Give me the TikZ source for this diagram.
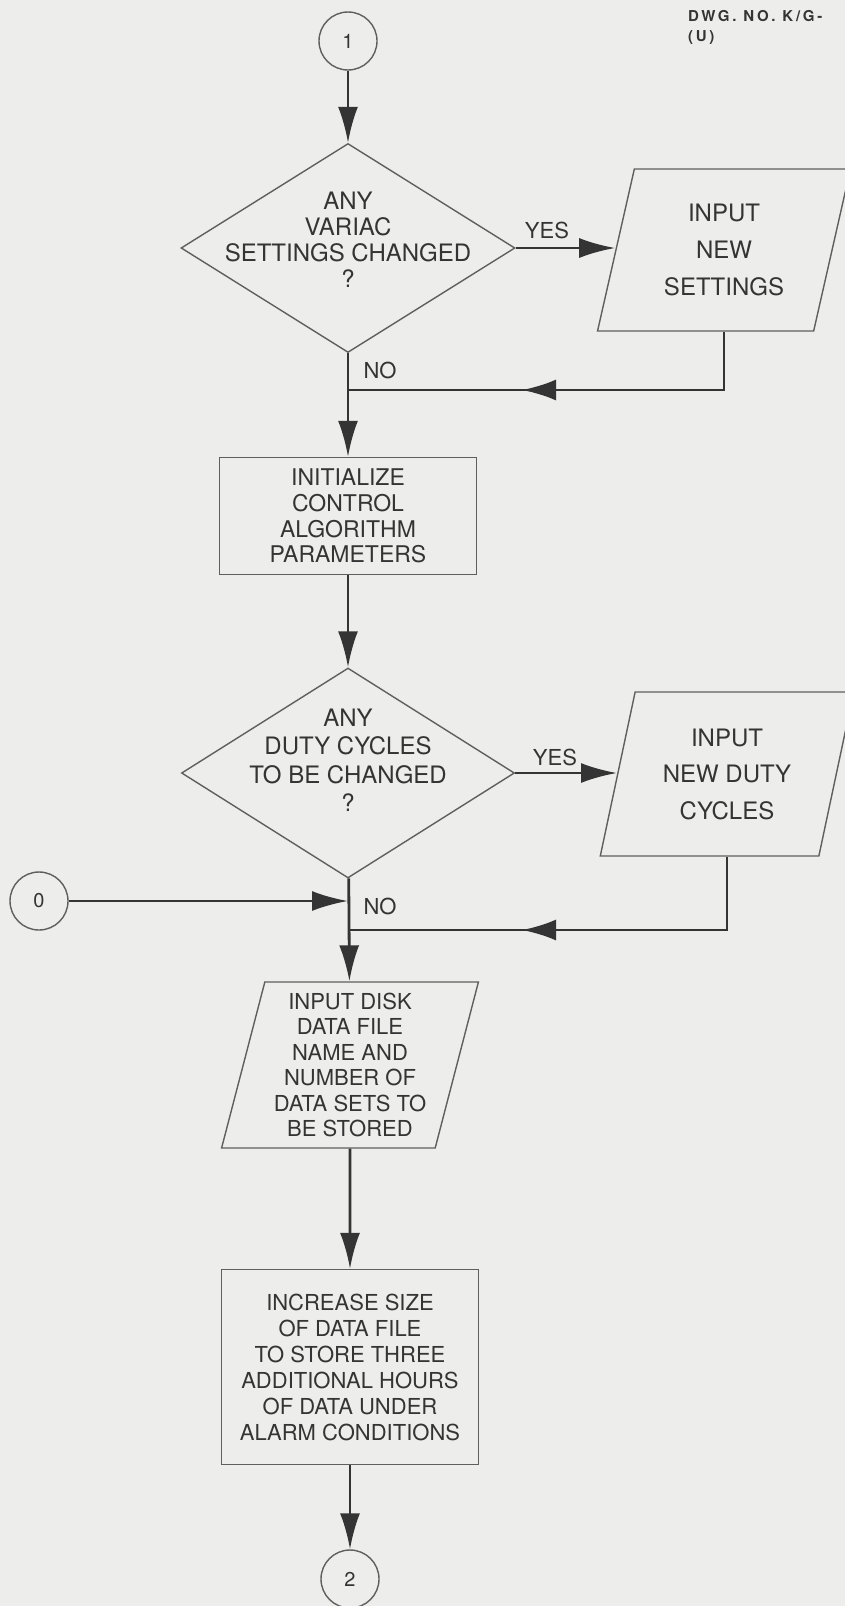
\documentclass[tikz,border=0pt]{standalone}
\usepackage{fontspec}
\setmainfont{TeX Gyre Heros}
\usetikzlibrary{shapes.geometric,arrows.meta,decorations.markings}
\definecolor{paper}{RGB}{237,237,235}
\definecolor{ink}{RGB}{52,52,52}
\definecolor{edge}{RGB}{95,95,95}
\tikzset{
  decision/.style={draw=edge,line width=1.4pt,diamond,inner sep=0pt},
  process/.style={draw=edge,line width=1.4pt,rectangle,inner sep=0pt,align=center,text=ink},
  io/.style={draw=edge,line width=1.4pt,trapezium,trapezium left angle=75,trapezium right angle=105,
    trapezium stretches=true,inner sep=0pt,align=center,text=ink},
  conn/.style={draw=edge,line width=1.4pt,circle,minimum size=58pt,inner sep=0pt,text=ink,
    font=\fontsize{20}{24}\selectfont},
  lbl/.style={text=ink,inner sep=0pt,font=\fontsize{22}{24}\selectfont},
  flow/.style={draw=ink,line width=2.8pt,-{Latex[length=36pt,width=20pt]}},
  back/.style={draw=ink,line width=2.8pt,postaction={decorate},
    decoration={markings,mark=at position -174pt with {\arrow{Latex[length=34pt,width=21pt]}}}},
}
\begin{document}
\begin{tikzpicture}[x=1pt,y=-1pt]
  \fill[paper] (0,0) rectangle (845,1606);
  \useasboundingbox (0,0) rectangle (845,1606);
  % drawing number
  \node[lbl,anchor=north west,align=left,font=\fontsize{15}{20}\selectfont\bfseries\addfontfeatures{LetterSpace=18}] (dwg) at (688,10) {DWG. NO. K/G-\\(U)};

  % variac settings
  \node[conn] (c1) at (348,41) {1};
  \node[decision,minimum width=334pt,minimum height=209pt] (d1) at (348,248) {};
  \node[lbl,align=center,font=\fontsize{24}{26}\selectfont] (d1t) at (348,240) {ANY\\VARIAC\\SETTINGS CHANGED\\?};
  \node[io,minimum width=253pt,minimum height=162pt,font=\fontsize{24}{37}\selectfont] (p1) at (724,250) {INPUT\\NEW\\SETTINGS};
  \node[lbl] (yes1) at (547,230) {YES};
  \node[lbl] (no1) at (380,370) {NO};
  \coordinate (j1) at (348,390);

  \draw[flow] (c1) -- (d1);
  \draw[flow] (d1) -- (d1 -| p1.west);
  \draw[back] (p1.center |- p1.south) |- (j1);

  % control parameters
  \node[process,minimum width=257pt,minimum height=117pt,font=\fontsize{23}{25.7}\selectfont] (init) at (348,516) {INITIALIZE\\CONTROL\\ALGORITHM\\PARAMETERS};
  \draw[flow] (d1) -- (init);

  % duty cycles
  \node[decision,minimum width=333pt,minimum height=210pt] (d2) at (348,773) {};
  \node[lbl,align=center,font=\fontsize{24}{28.5}\selectfont] (d2t) at (348,760) {ANY\\DUTY CYCLES\\TO BE CHANGED\\?};
  \node[io,minimum width=254pt,minimum height=164pt,font=\fontsize{24}{36.5}\selectfont] (p2) at (727,774) {INPUT\\NEW DUTY\\CYCLES};
  \node[lbl] (yes2) at (555,757) {YES};
  \node[lbl] (no2) at (380,906) {NO};
  \node[conn] (c0) at (39,901) {0};
  \coordinate (j2) at (348,901);
  \coordinate (j3) at (348,930);

  \draw[flow] (init) -- (d2);
  \draw[flow] (d2) -- (d2 -| p2.west);
  \draw[flow] (c0) -- (j2);
  \draw[back] (p2.center |- p2.south) |- (j3);

  % data file
  \node[io,minimum width=257pt,minimum height=166pt,font=\fontsize{22}{25.5}\selectfont] (p3) at (350,1065) {INPUT DISK\\DATA FILE\\NAME AND\\NUMBER OF\\DATA SETS TO\\BE STORED};
  \node[process,minimum width=257pt,minimum height=195pt,font=\fontsize{22}{26}\selectfont] (incr) at (350,1367) {INCREASE SIZE\\OF DATA FILE\\TO STORE THREE\\ADDITIONAL HOURS\\OF DATA UNDER\\ALARM CONDITIONS};
  \node[conn] (c2) at (350,1579) {2};

  \draw[flow] (d2) -- (p3);
  \draw[flow] (p3) -- (incr);
  \draw[flow] (incr) -- (c2);
\end{tikzpicture}
\end{document}
